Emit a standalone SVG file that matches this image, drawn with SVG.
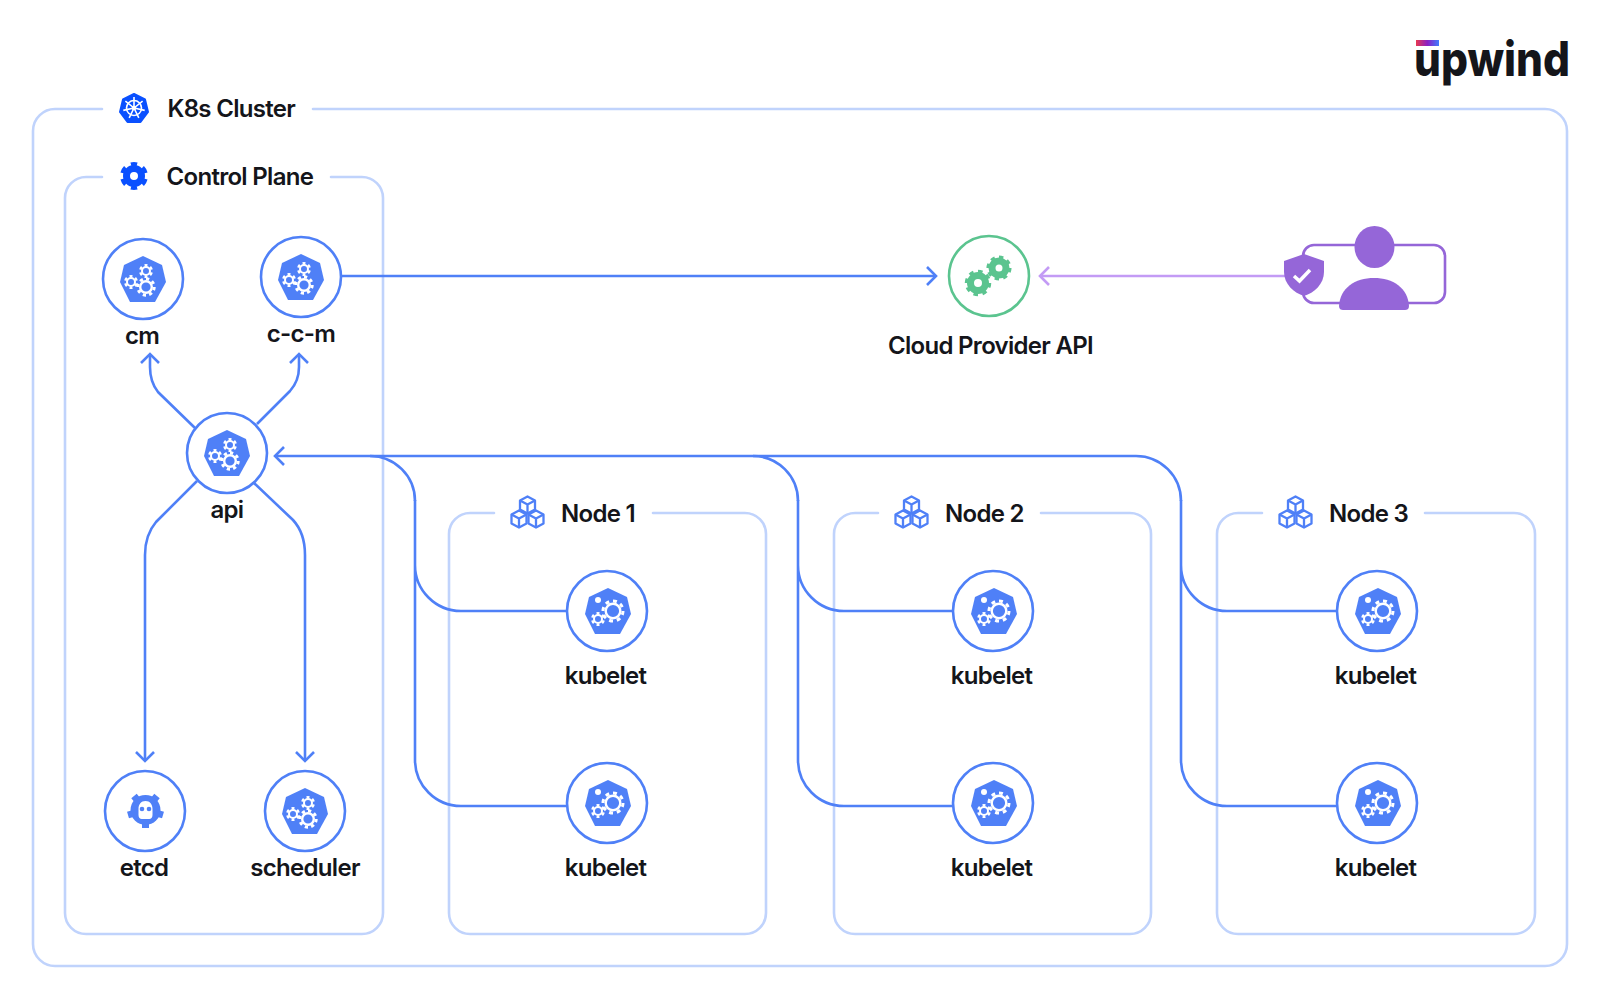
<svg xmlns="http://www.w3.org/2000/svg" width="1600" height="1000" viewBox="0 0 1600 1000">
<style>
text{font-family:"Inter","Liberation Sans",sans-serif;font-weight:600;fill:#14151a;font-size:24px;letter-spacing:-.7px}
.lb{text-anchor:middle}
.box{fill:none;stroke:#c0d3fc;stroke-width:2.6;stroke-linecap:round}
.ring{fill:#fff;stroke:#4f80f7;stroke-width:2.6}
.hep{fill:#4f80f7}
.con{fill:none;stroke:#4f80f7;stroke-width:2.6}
</style>
<defs>
<linearGradient id="lg"><stop offset="0" stop-color="#e8384f"/><stop offset=".5" stop-color="#8a1fc4"/><stop offset="1" stop-color="#3f7cff"/></linearGradient>
<marker id="ah" markerUnits="userSpaceOnUse" markerWidth="20" markerHeight="24" refX="16" refY="12" orient="auto"><path d="M7 3 16 12 7 21" fill="none" stroke="#4f80f7" stroke-width="2.6"/></marker>
<marker id="ahp" markerUnits="userSpaceOnUse" markerWidth="20" markerHeight="24" refX="16" refY="12" orient="auto"><path d="M7 3 16 12 7 21" fill="none" stroke="#c39bf5" stroke-width="2.6"/></marker>
<g id="gl"><circle r="8.200" pathLength="16" fill="none" stroke="#fff" stroke-width="3" stroke-dasharray="1 1"/><circle r="5.800" fill="none" stroke="#fff" stroke-width="2.400"/></g>
<g id="glk"><circle r="10" pathLength="16" fill="none" stroke="#fff" stroke-width="3" stroke-dasharray="1 1"/><circle r="7.300" fill="none" stroke="#fff" stroke-width="2.400"/></g>
<g id="gs"><circle r="5.800" pathLength="12" fill="none" stroke="#fff" stroke-width="2.400" stroke-dasharray="1 1" stroke-dashoffset="1.500"/><circle r="4" fill="none" stroke="#fff" stroke-width="2"/></g>
<g id="hepta"><path class="hep" d="M0-23 19-14 23 3 12 23H-13L-23 3-19-14Z"/></g>
<g id="ctl"><use href="#hepta"/><use href="#gl" x="3" y="8"/><use href="#gs" x="-12" y="3"/><use href="#gs" x="3" y="-8"/></g>
<g id="kub"><use href="#hepta"/><use href="#glk" x="5" y="0"/><use href="#gs" x="-10" y="8"/><circle cx="-10" cy="-11" r="3" fill="#fff"/></g>
<g id="cube" fill="none" stroke="#4f80f7" stroke-width="2.300" stroke-linejoin="round"><path d="M0-8.500 7.500-4.500V4.500L0 8.500-7.500 4.500V-4.500Z"/><path d="M-7.500-4.500 0-.5 7.500-4.500M0-.5V8.500"/></g>
<g id="cubes"><use href="#cube" x="0" y="-7"/><use href="#cube" x="-8.500" y="7"/><use href="#cube" x="8.500" y="7"/></g>
</defs>
<rect width="1600" height="1000" fill="#fff"/>

<g id="boxes">
<path class="box" d="M102 109H56A22 22 0 0 0 33 131V944A22 22 0 0 0 56 966H1544A22 22 0 0 0 1567 944V131A22 22 0 0 0 1544 109H313"/>
<path class="box" d="M102 177H86A21 21 0 0 0 65 198V913A21 21 0 0 0 86 934H362A21 21 0 0 0 383 913V198A21 21 0 0 0 362 177H331"/>
<path class="box" d="M494 513H470A21 21 0 0 0 449 534V913A21 21 0 0 0 470 934H745A21 21 0 0 0 766 913V534A21 21 0 0 0 745 513H653"/>
<path class="box" d="M878 513H855A21 21 0 0 0 834 534V913A21 21 0 0 0 855 934H1130A21 21 0 0 0 1151 913V534A21 21 0 0 0 1130 513H1041"/>
<path class="box" d="M1262 513H1238A21 21 0 0 0 1217 534V913A21 21 0 0 0 1238 934H1514A21 21 0 0 0 1535 913V534A21 21 0 0 0 1514 513H1425"/>
</g>

<g id="connectors">
<path class="con" marker-end="url(#ah)" d="M341 276H936"/>
<path d="M1290 276H1040" fill="none" stroke="#c39bf5" stroke-width="2.600" marker-end="url(#ahp)"/>
<path class="con" marker-end="url(#ah)" d="M195 428 158 392Q150 382 150 367V354"/>
<path class="con" marker-end="url(#ah)" d="M257 424 290 391Q299 381 299 367V354"/>
<path class="con" marker-end="url(#ah)" d="M197 481 156 522Q145 535 145 555V761"/>
<path class="con" marker-end="url(#ah)" d="M254 483 293 520Q305 533 305 555V761"/>
<path class="con" marker-end="url(#ah)" d="M1181 501A45 45 0 0 0 1136 456H275"/>
<path class="con" d="M415 501A45 45 0 0 0 370 456"/>
<path class="con" d="M798 501A45 45 0 0 0 753 456"/>
<path class="con" d="M415 500V760A46 46 0 0 0 461 806H567M415 565A46 46 0 0 0 461 611H567"/>
<path class="con" d="M798 500V760A46 46 0 0 0 844 806H953M798 565A46 46 0 0 0 844 611H953"/>
<path class="con" d="M1181 500V760A46 46 0 0 0 1227 806H1337M1181 565A46 46 0 0 0 1227 611H1337"/>
</g>

<g id="logo">
<rect x="1416" y="40" width="23" height="6" fill="url(#lg)"/>
<text x="1414" y="76" style="font-weight:800;font-size:48px;letter-spacing:0" textLength="156" lengthAdjust="spacingAndGlyphs">upwind</text>
</g>

<g id="k8s-cluster-label">
<path d="M134 94 145 99.500 148 112 140.500 122H127.500L120 112 123 99.500Z" fill="#0a50ff" stroke="#0a50ff" stroke-width="2" stroke-linejoin="round"/>
<g fill="none" stroke="#fff" stroke-width="1.600"><circle cx="134" cy="108" r="7.500"/><circle cx="134" cy="108" r="1.500" fill="#fff"/><path d="M134 108V97M134 108 142.600 101.100M134 108 144.700 110.400M134 108 138.800 117.900M134 108 129.200 117.900M134 108 123.300 110.400M134 108 125.400 101.100"/></g>
<text x="167.500" y="117">K8s Cluster</text>
</g>
<g id="control-plane-label" fill="none" stroke="#0a50ff">
<circle cx="134" cy="176" r="7.500" stroke-width="7"/>
<circle cx="134" cy="176" r="11.500" pathLength="12" stroke-width="5" stroke-dasharray="1 1" stroke-dashoffset="1.500"/>
<text x="166.500" y="185" stroke="none">Control Plane</text>
</g>

<g id="cm"><circle class="ring" cx="143" cy="279" r="40"/><use href="#ctl" x="143" y="279"/><text class="lb" x="142" y="344">cm</text></g>
<g id="c-c-m"><circle class="ring" cx="301" cy="277" r="40"/><use href="#ctl" x="301" y="277"/><text class="lb" x="301" y="342">c-c-m</text></g>
<g id="api"><circle class="ring" cx="227" cy="453" r="40"/><use href="#ctl" x="227" y="453"/><text class="lb" x="227" y="518">api</text></g>
<g id="etcd"><circle class="ring" cx="145" cy="811" r="40"/>
<circle cx="145.500" cy="810" r="15" fill="#4f80f7"/>
<path d="M145.500 810 134 796M145.500 810 157 796M145.500 810 163 815M145.500 810 128 815M145.500 810V828" stroke="#4f80f7" stroke-width="7"/>
<path d="M145.500 801C150 801 152.500 804.500 152.500 809V815C152.500 818 150.500 819.500 148.500 819H142.500C140.500 819.500 138.500 818 138.500 815V809C138.500 804.500 141 801 145.500 801Z" fill="#fff"/>
<circle cx="142" cy="809" r="2.300" fill="#4f80f7"/><circle cx="149" cy="809" r="2.300" fill="#4f80f7"/>
<text class="lb" x="144" y="876">etcd</text></g>
<g id="scheduler"><circle class="ring" cx="305" cy="811" r="40"/><use href="#ctl" x="305" y="811"/><text class="lb" x="305" y="876">scheduler</text></g>

<g id="cloud-provider-api"><circle cx="989" cy="276" r="40" fill="#fff" stroke="#5bc48f" stroke-width="2.600"/>
<g fill="none" stroke="#5bc48f"><circle cx="978" cy="283" r="7.500" stroke-width="7"/><circle cx="978" cy="283" r="11.500" pathLength="16" stroke-width="3.500" stroke-dasharray="1 1"/><circle cx="999" cy="268" r="7" stroke-width="7"/><circle cx="999" cy="268" r="10.800" pathLength="16" stroke-width="3.500" stroke-dasharray="1 1"/></g>
<text class="lb" x="990.500" y="354">Cloud Provider API</text></g>

<g id="user">
<rect x="1303" y="245" width="142" height="58" rx="11" fill="none" stroke="#9566d8" stroke-width="2.600"/>
<ellipse cx="1374.500" cy="247" rx="20" ry="21" fill="#9566d8"/>
<path d="M1339 306C1340 288 1355 278 1374 278 1393 278 1408 288 1409 306 1409 309 1407 310 1405 310H1343C1341 310 1339 309 1339 306Z" fill="#9566d8"/>
<path d="M1304 254 1324 261V272C1324 284 1314 293 1304 296 1294 293 1284 284 1284 272V261Z" fill="#9566d8"/>
<path d="M1294 276 1299.500 281 1310 270" fill="none" stroke="#fff" stroke-width="3.500"/>
</g>

<g id="node-1-label"><use href="#cubes" x="527.500" y="512"/><text x="561" y="521.500">Node 1</text></g>
<g id="node-2-label"><use href="#cubes" x="911.500" y="512"/><text x="945" y="521.500">Node 2</text></g>
<g id="node-3-label"><use href="#cubes" x="1295.500" y="512"/><text x="1329" y="521.500">Node 3</text></g>

<g id="kubelet-1a"><circle class="ring" cx="607" cy="611" r="40"/><use href="#kub" x="608" y="611"/><text class="lb" x="605.500" y="684">kubelet</text></g>
<g id="kubelet-1b"><circle class="ring" cx="607" cy="803" r="40"/><use href="#kub" x="608" y="803"/><text class="lb" x="605.500" y="876">kubelet</text></g>
<g id="kubelet-2a"><circle class="ring" cx="993" cy="611" r="40"/><use href="#kub" x="994" y="611"/><text class="lb" x="991.500" y="684">kubelet</text></g>
<g id="kubelet-2b"><circle class="ring" cx="993" cy="803" r="40"/><use href="#kub" x="994" y="803"/><text class="lb" x="991.500" y="876">kubelet</text></g>
<g id="kubelet-3a"><circle class="ring" cx="1377" cy="611" r="40"/><use href="#kub" x="1378" y="611"/><text class="lb" x="1375.500" y="684">kubelet</text></g>
<g id="kubelet-3b"><circle class="ring" cx="1377" cy="803" r="40"/><use href="#kub" x="1378" y="803"/><text class="lb" x="1375.500" y="876">kubelet</text></g>
</svg>
